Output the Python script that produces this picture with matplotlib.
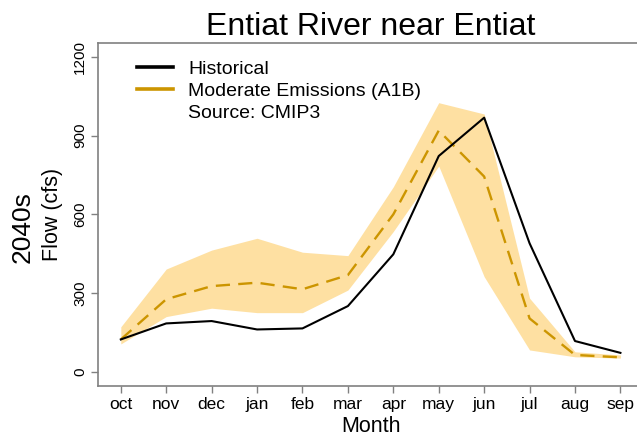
import matplotlib
matplotlib.use('Agg')
import matplotlib.pyplot as plt
from matplotlib.lines import Line2D

plt.rcParams['font.family'] = ['Liberation Sans', 'DejaVu Sans']

# monthly flow, water year order
months = ['oct', 'nov', 'dec', 'jan', 'feb', 'mar', 'apr', 'may', 'jun', 'jul', 'aug', 'sep']
historical = [124, 185, 194, 162, 166, 251, 448, 822, 968, 490, 118, 73]
a1b_mean = [124, 277, 327, 340, 315, 369, 600, 919, 744, 204, 65, 56]
a1b_upper = [172, 392, 464, 509, 456, 443, 705, 1025, 982, 281, 77, 65]
a1b_lower = [107, 211, 243, 226, 226, 312, 535, 784, 363, 84, 58, 53]
yticks = [0, 300, 600, 900, 1200]

x = list(range(1, len(months) + 1))

fig = plt.figure(figsize=(6.37, 4.41), dpi=100)
ax = fig.add_axes([0.154, 0.1254, 0.8556, 0.777])

band_col = '#fee0a2'
dash_col = '#cc9500'

ax.fill_between(x, a1b_lower, a1b_upper, color=band_col, linewidth=0)
ax.plot(x, a1b_mean, color=dash_col, lw=1.7, dashes=(6, 3.5))
ax.plot(x, historical, color='black', lw=1.5)

ax.set_xlim(0.5, 12.5)
ax.set_ylim(-52, 1252)
ax.set_xticks(x)
ax.set_xticklabels(months, fontsize=12.5)
ax.set_yticks(yticks)
ax.set_yticklabels([str(v) for v in yticks], fontsize=11, rotation=90, va='center')

for s in ax.spines.values():
    s.set_color('#808080')
    s.set_linewidth(1.2)
ax.tick_params(axis='both', color='#808080', length=5, width=1)
ax.tick_params(axis='x', pad=3)
ax.tick_params(axis='y', pad=3)

ax.set_xlabel('Month', fontsize=15.5, labelpad=3)
ax.set_ylabel('Flow (cfs)', fontsize=15.5, labelpad=7)
fig.text(0.036, 0.485, '2040s', rotation=90, fontsize=19, ha='center', va='center')
ax.set_title('Entiat River near Entiat', fontsize=23, pad=6)

handles = [Line2D([], [], color='black', lw=2.6),
           Line2D([], [], color=dash_col, lw=2.6),
           Line2D([], [], color='none')]
labels = ['Historical', 'Moderate Emissions (A1B)', 'Source: CMIP3']
ax.legend(handles, labels, loc='upper left', bbox_to_anchor=(0.071, 0.95),
          frameon=False, fontsize=14, handlelength=1.85, handletextpad=0.8,
          labelspacing=0.24, borderpad=0, borderaxespad=0)

fig.savefig('out.png', dpi=100)
